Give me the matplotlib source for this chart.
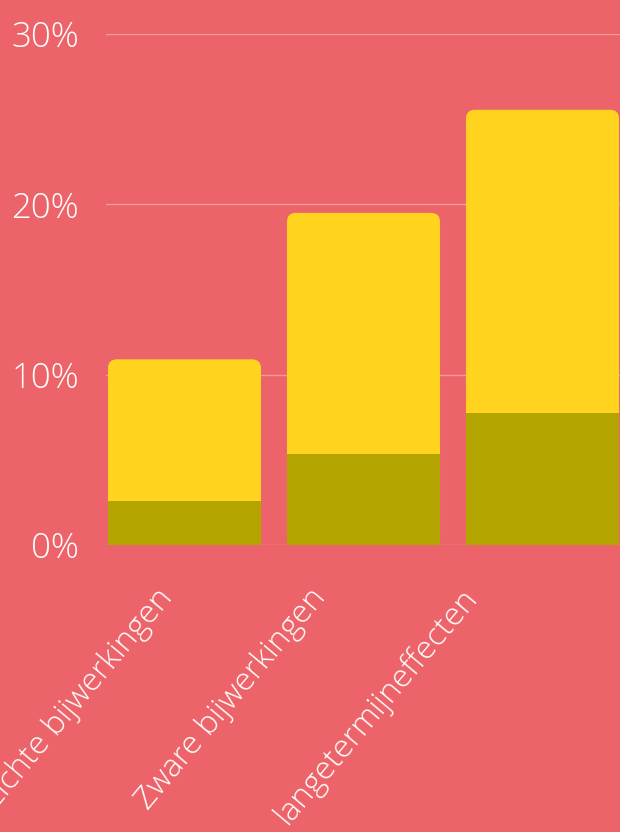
import matplotlib
matplotlib.use("Agg")
import matplotlib.pyplot as plt
from matplotlib.patches import FancyBboxPatch
from matplotlib.transforms import ScaledTranslation
from matplotlib import font_manager

# data
categories = ["Lichte bijwerkingen", "Zware bijwerkingen", "langetermijneffecten"]
bottom_vals = [2.6, 5.35, 7.75]   # olive part
total_vals = [10.9, 19.5, 25.55]  # full bar height
yticks = [0, 10, 20, 30]

bg = "#EC6469"
yellow = "#FFD31E"
olive = "#B4A400"

plt.rcParams["font.family"] = ["Open Sans", "DejaVu Sans"]

# look for a light (not condensed) Open Sans face
light = None
for f in font_manager.fontManager.ttflist:
    if ("Open Sans" in f.name and "Condensed" not in f.name
            and "Condensed" not in f.fname and f.stretch == "normal"
            and f.style == "normal" and isinstance(f.weight, int) and f.weight < 400):
        light = f.fname
        break

def fp(size):
    if light:
        return font_manager.FontProperties(fname=light, size=size)
    return font_manager.FontProperties(family="Open Sans", weight="normal", size=size)

fig = plt.figure(figsize=(6.2, 8.32), dpi=100, facecolor=bg)
ax = fig.add_axes([106 / 620, (832 - 545) / 832, 1 - 106 / 620, (545 - 34) / 832])
ax.set_facecolor(bg)

w = 0.855
ax.set_xlim(-0.4385, 2.433)
ax.set_ylim(0, 30)

# aspect so the corners come out round in pixels
px_x = 514 / (2.433 + 0.4385)
px_y = 511 / 30
asp = px_x / px_y
r = 0.05

for i, (b, t) in enumerate(zip(bottom_vals, total_vals)):
    p = FancyBboxPatch((i - w / 2, 0), w, t,
                       boxstyle=f"round,pad=0,rounding_size={r}",
                       mutation_aspect=asp, fc=yellow, ec="none", zorder=3)
    ax.add_patch(p)
    ax.bar(i, b, width=w, color=olive, zorder=4)

ax.set_yticks(yticks)
ax.set_yticklabels([f"{v}%" for v in yticks], fontproperties=fp(25))
ax.set_xticks(range(len(categories)))
ax.set_xticklabels(categories, rotation=50, ha="right", rotation_mode="anchor",
                   fontproperties=fp(23))
ax.tick_params(axis="y", length=0, pad=19.5, labelcolor="white")
ax.tick_params(axis="x", length=0, pad=27, labelcolor="white")

# labels sit a bit left of the bar centres in the reference
shifts = [-29, -55, -83]
for lab, dx in zip(ax.get_xticklabels(), shifts):
    lab.set_transform(lab.get_transform() + ScaledTranslation(dx / 100, 0, fig.dpi_scale_trans))

ax.grid(axis="y", color="white", alpha=0.35, linewidth=1, zorder=1)
for s in ax.spines.values():
    s.set_visible(False)

fig.savefig("out.png", dpi=100, facecolor=bg)
